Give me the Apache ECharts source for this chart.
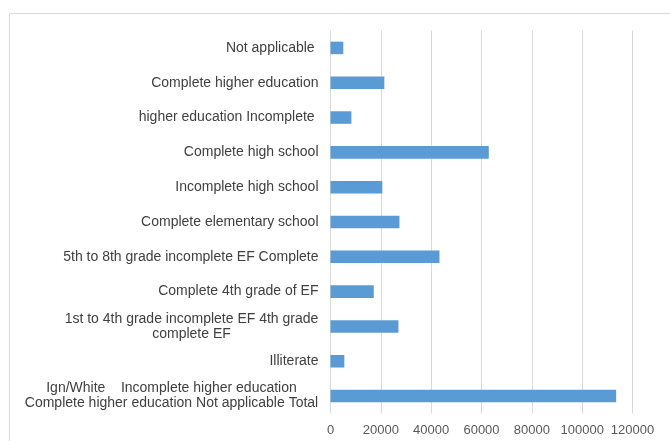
<!DOCTYPE html>
<html>
<head>
<meta charset="utf-8">
<script src="https://cdn.jsdelivr.net/npm/echarts@6/dist/echarts.min.js"></script>
<style>
  html, body { margin: 0; padding: 0; background: #fff; }
  #chart { width: 670px; height: 441px; }
</style>
</head>
<body>
<div id="chart"></div>
<script>
// Education level categories, listed top to bottom
const categories = [
  'Not applicable ',
  'Complete higher education',
  'higher education Incomplete ',
  'Complete high school',
  'Incomplete high school',
  'Complete elementary school',
  '5th to 8th grade incomplete EF Complete',
  'Complete 4th grade of EF',
  '1st to 4th grade incomplete EF 4th grade\ncomplete EF',
  'Illiterate',
  'Ign/White    Incomplete higher education\nComplete higher education Not applicable Total'
];

// Counts per category
const values = [5100, 21400, 8300, 62900, 20600, 27400, 43300, 17200, 27000, 5500, 113500];

// Value axis tick settings
const xMax = 120000;
const xStep = 20000;

const labelFont = '14px "Liberation Sans", Arial, sans-serif';
const labelColor = '#404040';

const chart = echarts.init(document.getElementById('chart'));

// Multi-line labels: every line is centred in a box as wide as the label's widest line,
// and that box is right-aligned against the axis.
const measureCtx = document.createElement('canvas').getContext('2d');
measureCtx.font = labelFont;
const rich = {};
const labelKeys = {};
categories.forEach(function (text, i) {
  if (text.indexOf('\n') < 0) return;
  const w = Math.max.apply(null, text.split('\n').map(function (l) {
    return Math.ceil(measureCtx.measureText(l).width);
  }));
  const key = 'm' + i;
  labelKeys[text] = key;
  rich[key] = {
    width: w,
    align: 'center',
    fontSize: 14,
    lineHeight: 15,
    color: labelColor,
    fontFamily: '"Liberation Sans", Arial, sans-serif'
  };
});

function labelFormatter(text) {
  const key = labelKeys[text];
  if (!key) return text;
  return text.split('\n').map(function (line) { return '{' + key + '|' + line + '}'; }).join('\n');
}

chart.setOption({
  animation: false,
  graphic: [{
    type: 'rect',
    shape: { x: 9.5, y: 13.5, width: 700, height: 460 },
    style: { fill: 'none', stroke: '#d9d9d9', lineWidth: 1 },
    silent: true,
    z: -1
  }],
  grid: { left: 330.5, right: 37.5, top: 30.5, bottom: 27.5, containLabel: false },
  xAxis: {
    type: 'value',
    min: 0,
    max: xMax,
    interval: xStep,
    axisLine: { show: false },
    axisTick: { show: false },
    splitLine: { lineStyle: { color: '#d9d9d9', width: 1 } },
    axisLabel: {
      color: '#595959',
      fontFamily: '"Liberation Sans", Arial, sans-serif',
      fontSize: 13,
      margin: 10,
      formatter: function (v) { return String(v); }
    }
  },
  yAxis: {
    type: 'category',
    data: categories,
    inverse: true,
    axisLine: { show: false },
    axisTick: { show: false },
    axisLabel: {
      color: labelColor,
      fontFamily: '"Liberation Sans", Arial, sans-serif',
      fontSize: 14,
      lineHeight: 15,
      margin: 12,
      formatter: labelFormatter,
      rich: rich
    }
  },
  series: [{
    type: 'bar',
    data: values,
    barWidth: '36%',
    itemStyle: { color: '#5b9bd5' }
  }]
});
</script>
</body>
</html>
